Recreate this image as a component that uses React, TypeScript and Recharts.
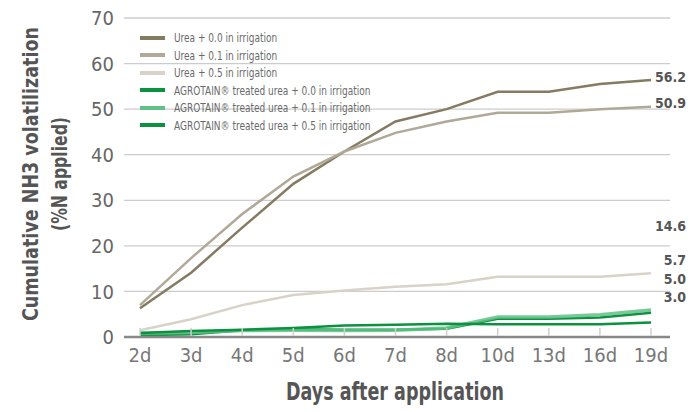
import React from 'react';
import { LineChart, Line, XAxis, YAxis, CartesianGrid, LabelList } from 'recharts';

const FONT = '"Liberation Sans Narrow", "DejaVu Sans Condensed", "DejaVu Sans", sans-serif';

const days = ['2d', '3d', '4d', '5d', '6d', '7d', '8d', '10d', '13d', '16d', '19d'];
const urea00 = [6.3, 14.1, 24.0, 33.6, 40.7, 47.3, 50.0, 53.8, 53.8, 55.5, 56.4];
const urea01 = [7.0, 17.3, 27.0, 35.2, 40.7, 44.8, 47.3, 49.2, 49.2, 50.0, 50.5];
const urea05 = [1.5, 3.9, 7.0, 9.2, 10.2, 11.0, 11.6, 13.2, 13.2, 13.2, 14.0];
const agro00 = [0.4, 0.6, 1.5, 1.7, 1.6, 1.6, 1.8, 4.0, 4.0, 4.3, 5.3];
const agro01 = [0.8, 1.0, 1.4, 1.5, 1.4, 1.5, 2.0, 4.4, 4.4, 4.9, 5.9];
const agro05 = [0.9, 1.3, 1.6, 2.0, 2.5, 2.7, 2.9, 2.8, 2.8, 2.8, 3.2];
const endLabels = ['56.2', '50.9', '14.6', '5.0', '5.7', '3.0'];
const yTicks = [0, 10, 20, 30, 40, 50, 60, 70];

const data = days.map((day, i) => ({
  day,
  urea00: urea00[i],
  urea01: urea01[i],
  urea05: urea05[i],
  agro00: agro00[i],
  agro01: agro01[i],
  agro05: agro05[i],
}));

const series = [
  { key: 'urea00', name: 'Urea + 0.0 in irrigation', color: '#857a62', width: 2.5, dy: -3 },
  { key: 'urea01', name: 'Urea + 0.1 in irrigation', color: '#b1a998', width: 2.5, dy: -4 },
  { key: 'urea05', name: 'Urea + 0.5 in irrigation', color: '#d9d2c8', width: 2.5, dy: -47 },
  { key: 'agro00', name: 'AGROTAIN® treated urea + 0.0 in irrigation', color: '#0b9140', width: 2.5, dy: -34 },
  { key: 'agro01', name: 'AGROTAIN® treated urea + 0.1 in irrigation', color: '#5fc185', width: 3.5, dy: -50 },
  { key: 'agro05', name: 'AGROTAIN® treated urea + 0.5 in irrigation', color: '#0b9140', width: 2.5, dy: -25 },
];

function DayTick(props: any) {
  const { x, y, payload } = props;
  return (
    <g>
      <line x1={x} x2={x} y1={y - 9} y2={y - 1} stroke="#cfcfcf" strokeWidth={1.5} />
      <text x={x} y={y + 25} textAnchor="middle" fill="#777" fontSize={20} fontFamily={FONT}>
        {payload.value}
      </text>
    </g>
  );
}

// x title drawn by hand so it can be squeezed like the condensed original
function XTitle(props: any) {
  const vb = props.viewBox || {};
  const cx = vb.x + vb.width / 2 - 2;
  return (
    <text
      x={cx}
      y={vb.y + vb.height - 7}
      textAnchor="middle"
      fill="#555"
      fontFamily={FONT}
      fontWeight="bold"
      fontSize={24}
      textLength={218}
      lengthAdjust="spacingAndGlyphs"
    >
      Days after application
    </text>
  );
}

function YTitle() {
  const cy = 174;
  return (
    <g fill="#555" fontFamily={FONT} fontWeight="bold" fontSize={20.5} textAnchor="middle">
      <text
        x={31}
        y={cy}
        transform={`rotate(-90 31 ${cy})`}
        dominantBaseline="central"
        textLength={294}
        lengthAdjust="spacingAndGlyphs"
      >
        Cumulative NH3 volatilization
      </text>
      <text
        x={60}
        y={cy}
        transform={`rotate(-90 60 ${cy})`}
        dominantBaseline="central"
        textLength={114}
        lengthAdjust="spacingAndGlyphs"
      >
        (%N applied)
      </text>
    </g>
  );
}

function LegendBox() {
  return (
    <div
      style={{
        position: 'absolute',
        left: 140,
        top: 29,
        fontFamily: FONT,
        fontSize: 12.5,
        color: '#6a6a6a',
        lineHeight: '17.5px',
        pointerEvents: 'none',
      }}
    >
      {series.map((s) => (
        <div key={s.key} style={{ display: 'flex', alignItems: 'center', whiteSpace: 'nowrap' }}>
          <span style={{ display: 'inline-block', width: 25, height: 4, background: s.color, marginRight: 9 }} />
          <span style={{ display: 'inline-block', transform: 'scaleX(0.8)', transformOrigin: 'left center' }}>
            {s.name}
          </span>
        </div>
      ))}
    </div>
  );
}

export default function App() {
  return (
    <div style={{ position: 'absolute', left: 0, top: 0, width: 700, height: 412, background: '#fff' }}>
      <LineChart width={700} height={412} data={data} margin={{ top: 18, right: 30, bottom: 5, left: 84 }}>
        <CartesianGrid vertical={false} stroke="#cccccc" strokeWidth={1.3} />
        <XAxis
          dataKey="day"
          height={70}
          padding={{ left: 16, right: 19 }}
          axisLine={{ stroke: '#888', strokeWidth: 2.5 }}
          tickLine={false}
          tickSize={0}
          tickMargin={0}
          interval={0}
          tick={<DayTick />}
          label={<XTitle />}
        />
        <YAxis
          width={40}
          domain={[0, 70]}
          ticks={yTicks}
          interval={0}
          axisLine={false}
          tickLine={false}
          tickMargin={4}
          tick={{ fill: '#666', fontSize: 20, fontFamily: FONT }}
          label={<YTitle />}
        />
        {series.map((s, si) => (
          <Line
            key={s.key}
            dataKey={s.key}
            name={s.name}
            stroke={s.color}
            strokeWidth={s.width}
            strokeOpacity={s.key === 'agro01' ? 0.85 : 1}
            dot={false}
            activeDot={false}
            isAnimationActive={false}
          >
            <LabelList
              dataKey={s.key}
              content={(p: any) =>
                p.index === days.length - 1 ? (
                  <text
                    x={p.x + 35}
                    y={p.y + s.dy}
                    textAnchor="end"
                    dominantBaseline="central"
                    fill="#555"
                    fontWeight="bold"
                    fontSize={14}
                    fontFamily={FONT}
                  >
                    {endLabels[si]}
                  </text>
                ) : null
              }
            />
          </Line>
        ))}
      </LineChart>
      <LegendBox />
    </div>
  );
}
